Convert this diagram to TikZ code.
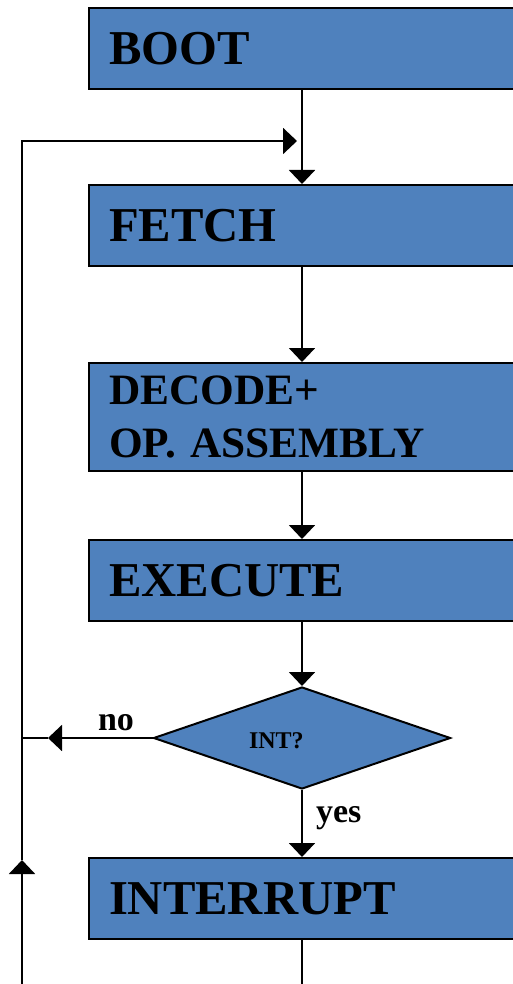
\documentclass[tikz,border=0pt]{standalone}
\usepackage{fontspec}
\setmainfont{Liberation Serif}
\usetikzlibrary{shapes.geometric,arrows.meta}
\definecolor{stepblue}{RGB}{79,129,189}
\frenchspacing
\begin{document}
\begin{tikzpicture}[x=0.75pt,y=-0.75pt,
  line width=1.5pt,
  stepbox/.style={draw=black, fill=stepblue, rectangle, anchor=north west,
    minimum width=399pt, text width=369pt, inner xsep=15pt, inner ysep=0pt,
    align=left, font=\fontsize{36.5}{40}\selectfont\bfseries},
  decision/.style={draw=black, fill=stepblue, diamond, inner sep=0pt,
    minimum width=222.75pt, minimum height=76.5pt},
  arr/.style={-{Triangle[width=19.5pt,length=10.5pt]}},
  lbl/.style={inner sep=0pt, anchor=base west, font=\fontsize{25.5}{28}\selectfont\bfseries}
]
\useasboundingbox (0,0) rectangle (513,984);
\clip (0,0) rectangle (513,984);

% main process steps
\node[stepbox, minimum height=60.75pt] (boot)  at (88,7)   {BOOT};
\node[stepbox, minimum height=60.75pt] (fetch) at (88,184) {FETCH};
\node[stepbox, minimum height=81pt, font=\fontsize{32.5}{39.5}\selectfont\bfseries]
      (dec) at (88,362) {DECODE+\\OP. ASSEMBLY};
\node[stepbox, minimum height=60.75pt] (exec)  at (88,539) {EXECUTE};
\node[decision] (int) at (302,738) {};
\node[inner sep=0pt, anchor=base west, font=\fontsize{18}{20}\selectfont\bfseries] (intq) at (248,748) {INT?};
\node[stepbox, minimum height=60.75pt] (intr)  at (88,857) {INTERRUPT};

% branch labels
\node[lbl] (nolbl)  at (97,730)  {no};
\node[lbl] (yeslbl) at (315,822) {yes};

% routing points
\coordinate (cx) at (302,0);
\coordinate (looptip) at (297,141);
\coordinate (loopcorner) at (22,141);
\coordinate (uptip) at (22,860);
\coordinate (leftend) at (22,990);
\coordinate (notip) at (48,738);
\coordinate (nojoin) at (22,738);
\coordinate (downend) at (302,990);

% main flow
\draw[arr] (boot.south -| cx) -- (fetch.north -| cx);
\draw[arr] (fetch.south -| cx) -- (dec.north -| cx);
\draw[arr] (dec.south -| cx) -- (exec.north -| cx);
\draw[arr] (exec.south -| cx) -- (int.north);
\draw[arr] (int.south) -- (intr.north -| cx);
\draw (intr.south -| cx) -- (downend);

% "no" branch and return loop
\draw[arr] (int.west) -- (notip);
\draw (notip) -- (nojoin);
\draw[arr] (leftend) -- (uptip);
\draw[arr] (uptip) -- (loopcorner) -- (looptip);
\end{tikzpicture}
\end{document}
